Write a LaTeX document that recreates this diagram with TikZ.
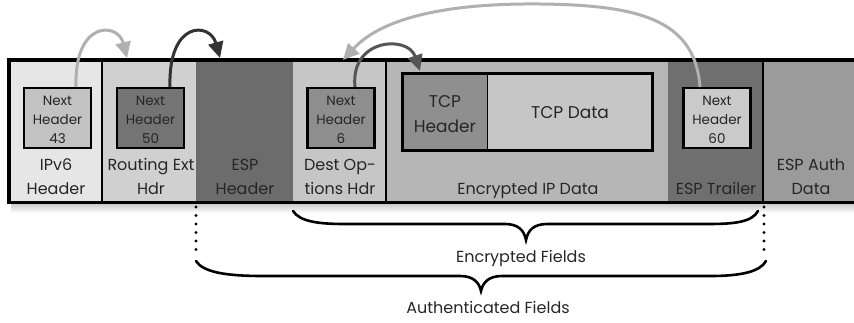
\documentclass[tikz,border=0pt]{standalone}
\usepackage{fontspec}
\setmainfont{Poppins}
\usetikzlibrary{arrows.meta}
\definecolor{txt}{HTML}{262626}
\definecolor{cIPv}{HTML}{E6E6E6}
\definecolor{cIPvBox}{HTML}{C2C2C2}
\definecolor{cRout}{HTML}{D0D0D0}
\definecolor{cRoutBox}{HTML}{747474}
\definecolor{cEspH}{HTML}{6C6C6C}
\definecolor{cDest}{HTML}{C6C6C6}
\definecolor{cDestBox}{HTML}{8E8E8E}
\definecolor{cEnc}{HTML}{B6B6B6}
\definecolor{cTcpH}{HTML}{8F8F8F}
\definecolor{cTcpD}{HTML}{C6C6C6}
\definecolor{cEspT}{HTML}{6F6F6F}
\definecolor{cEspTBox}{HTML}{CACACA}
\definecolor{cAuth}{HTML}{9B9B9B}
\definecolor{arLight}{HTML}{B0B0B0}
\definecolor{arDark}{HTML}{333333}
\definecolor{arMid}{HTML}{555555}
\begin{document}
\begin{tikzpicture}[x=1pt,y=-1pt,
  region/.style={draw=none, inner sep=0pt, minimum height=142pt, anchor=north west},
  nhbox/.style={draw=black, line width=2.5pt, inner sep=0pt, minimum width=67pt, minimum height=60pt},
  lbl/.style={font=\fontsize{16}{24}\selectfont, text=txt, align=center, inner sep=0pt, anchor=base},
  small/.style={font=\fontsize{13.5}{19}\selectfont, text=txt, align=center, inner sep=0pt, anchor=base},
  arrlight/.style={draw=arLight, line width=3pt, -{Triangle[length=16pt,width=15pt]}},
  arrdark/.style={draw=arDark, line width=3pt, -{Triangle[length=16pt,width=15pt]}},
  arrmid/.style={draw=arMid, line width=3pt, -{Triangle[length=16pt,width=15pt]}},
  bracestyle/.style={draw=black, line width=2.6pt, line cap=round},
  dots/.style={draw=black, line width=3.4pt, line cap=round, dash pattern=on 0pt off 8.5pt}
]
\useasboundingbox (0,0) rectangle (854,322);
% shadow under the bar
\fill[top color=gray!45, bottom color=white] (11,203) rectangle (854,213);
% regions
\node[region, fill=cIPv, minimum width=93pt] (ipv6) at (9,60) {};
\node[region, fill=cRout, minimum width=94pt] (rout) at (102,60) {};
\node[region, fill=cEspH, minimum width=97pt] (esph) at (196,60) {};
\node[region, fill=cDest, minimum width=93pt] (dest) at (293,60) {};
\node[region, fill=cEnc, minimum width=282pt] (encd) at (386,60) {};
\node[region, fill=cEspT, minimum width=95pt] (espt) at (668,60) {};
\node[region, fill=cAuth, minimum width=91pt] (auth) at (763,60) {};
% dividers and borders
\draw[line width=1.4pt] (rout.north west) -- (rout.south west);
\draw[line width=1.4pt] (encd.north west) -- (encd.south west);
\draw[line width=1.4pt] (auth.north west) -- (auth.south west);
\draw[line width=3.5pt] (auth.north east) -- (ipv6.north west) -- (ipv6.south west) -- (auth.south east);
% next header boxes
\node[nhbox, fill=cIPvBox] (nh1) at (57.5,118) {};
\node[nhbox, fill=cRoutBox] (nh2) at (150.5,118) {};
\node[nhbox, fill=cDestBox] (nh3) at (341,118) {};
\node[nhbox, fill=cEspTBox] (nh4) at (717,118) {};
\node[small] (nt1) at (57.5,143) {Next\\Header\\43};
\node[small] (nt2) at (150.5,143) {Next\\Header\\50};
\node[small] (nt3) at (341,143) {Next\\Header\\6};
\node[small] (nt4) at (717,143) {Next\\Header\\60};
% TCP box
\node[draw=none, fill=cTcpH, inner sep=0pt, minimum width=85pt, minimum height=76pt] (tcph) at (445,112) {};
\node[draw=none, fill=cTcpD, inner sep=0pt, minimum width=165pt, minimum height=76pt] (tcpd) at (570,112) {};
\draw[line width=1.4pt] (tcpd.north west) -- (tcpd.south west);
\draw[line width=3pt] (tcph.north west) rectangle (tcpd.south east);
\node[lbl, font=\fontsize{17}{25}\selectfont] (tcpht) at (445,132) {TCP\\Header};
\node[lbl, font=\fontsize{17}{25}\selectfont] (tcpdt) at (570,118) {TCP Data};
% region labels
\node[lbl] (l1) at (56,194) {IPv6\\Header};
\node[lbl] (l2) at (151,194) {Routing Ext\\Hdr};
\node[lbl] (l3) at (245,194) {ESP\\Header};
\node[lbl] (l4) at (340,194) {Dest Op-\\tions Hdr};
\node[lbl] (l5) at (528,194) {Encrypted IP Data};
\node[lbl] (l6) at (716,194) {ESP Trailer};
\node[lbl] (l7) at (811,194) {ESP Auth\\Data};
% arrows
\coordinate (a1s) at (76,87);  \coordinate (a1e) at (127,58);
\coordinate (a2s) at (170,87); \coordinate (a2e) at (220,58);
\coordinate (a3s) at (355,87); \coordinate (a3e) at (420,71);
\coordinate (a4s) at (700,87); \coordinate (a4m) at (540,4); \coordinate (a4e) at (343,60);
\draw[arrlight] (a1s) .. controls (74,20) and (118,22) .. (a1e);
\draw[arrdark] (a2s) .. controls (168,20) and (210,22) .. (a2e);
\draw[arrmid] (a3s) .. controls (350,38) and (408,35) .. (a3e);
\draw[arrlight] (a4s) .. controls (695,20) and (640,5) .. (a4m) .. controls (440,3) and (380,20) .. (a4e);
% dotted guides
\coordinate (dl1) at (196,207); \coordinate (dl2) at (196,256);
\coordinate (dr1) at (764,207); \coordinate (dr2) at (764,254);
\draw[dots] (dl1) -- (dl2);
\draw[dots] (dr1) -- (dr2);
% encrypted brace
\coordinate (eb1) at (293,211); \coordinate (ebt) at (526,240); \coordinate (eb2) at (758,211);
\draw[bracestyle] (eb1) .. controls (300,222) and (320,224) .. (345,224) -- (505,224)
  .. controls (518,224) and (524,230) .. (ebt) .. controls (528,230) and (534,224) .. (547,224)
  -- (708,224) .. controls (735,224) and (752,222) .. (eb2);
\node[lbl] (enc) at (521,262) {Encrypted Fields};
% authenticated brace
\coordinate (ab1) at (196,261); \coordinate (abt) at (481,291); \coordinate (ab2) at (766,261);
\draw[bracestyle] (ab1) .. controls (203,272) and (225,276) .. (263,276) -- (460,276)
  .. controls (473,276) and (479,282) .. (abt) .. controls (483,282) and (489,276) .. (502,276)
  -- (710,276) .. controls (740,276) and (760,272) .. (ab2);
\node[lbl] (aut) at (488,313) {Authenticated Fields};
\end{tikzpicture}
\end{document}
